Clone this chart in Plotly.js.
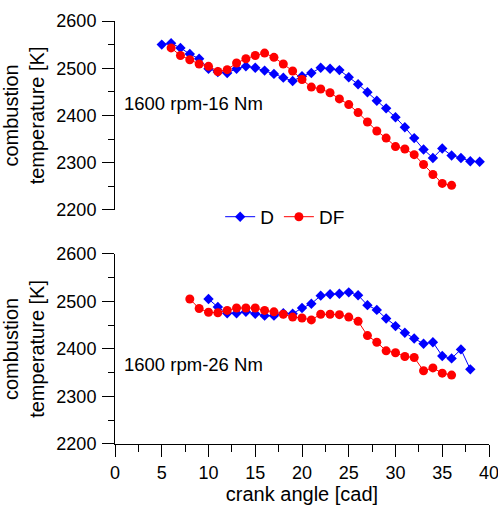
<!DOCTYPE html>
<html>
<head>
<meta charset="utf-8">
<script src="https://cdn.plot.ly/plotly-3.0.1.min.js"></script>
<style>html,body{margin:0;padding:0;background:#fff;}#chart{width:498px;height:508px;}</style>
</head>
<body>
<div id="chart"></div>
<script>
// Upper panel: 1600 rpm-16 Nm
const xTopD = [5,6,7,8,9,10,11,12,13,14,15,16,17,18,19,20,21,22,23,24,25,26,27,28,29,30,31,32,33,34,35,36,37,38,39];
const topD = [2550,2553,2543,2530,2520,2499,2492,2490,2499,2504,2501,2495,2488,2480,2473,2483,2490,2501,2499,2496,2481,2466,2449,2431,2415,2396,2375,2352,2328,2310,2330,2315,2310,2303,2302];
const xTopDF = [6,7,8,9,10,11,12,13,14,15,16,17,18,19,20,21,22,23,24,25,26,27,28,29,30,31,32,33,34,35,36];
const topDF = [2543,2527,2518,2509,2504,2493,2497,2511,2520,2527,2532,2523,2509,2494,2476,2460,2456,2448,2435,2423,2406,2386,2367,2352,2334,2329,2317,2296,2275,2256,2252];

// Lower panel: 1600 rpm-26 Nm
const xBotD = [10,11,12,13,14,15,16,17,18,19,20,21,22,23,24,25,26,27,28,29,30,31,32,33,34,35,36,37,38];
const botD = [2505,2488,2475,2475,2478,2474,2470,2470,2475,2474,2486,2495,2512,2515,2516,2519,2513,2492,2482,2464,2448,2434,2422,2411,2414,2385,2380,2399,2357];
const xBotDF = [8,9,10,11,12,13,14,15,16,17,18,19,20,21,22,23,24,25,26,27,28,29,30,31,32,33,34,35,36];
const botDF = [2505,2485,2477,2476,2481,2486,2486,2486,2481,2478,2473,2467,2465,2461,2473,2473,2472,2467,2458,2428,2414,2396,2392,2384,2382,2354,2360,2349,2345];

const seriesNames = ['D', 'DF'];
const panelLabels = ['1600 rpm-16 Nm', '1600 rpm-26 Nm'];
const yTitle = 'combustion<br>temperature [K]';
const xTitle = 'crank angle [cad]';

const blue = '#0000ff', red = '#ff0000';
const FONT = 'Arial, "Liberation Sans", sans-serif';

const dStyle = {mode:'lines+markers', line:{color:blue, width:1}, marker:{symbol:'diamond', size:8, color:blue}};
const fStyle = {mode:'lines+markers', line:{color:red, width:1}, marker:{symbol:'circle', size:9, color:red}};

const traces = [
  Object.assign({x:xTopD, y:topD, name:seriesNames[0], xaxis:'x', yaxis:'y', showlegend:true}, dStyle),
  Object.assign({x:xTopDF, y:topDF, name:seriesNames[1], xaxis:'x', yaxis:'y', showlegend:true}, fStyle),
  Object.assign({x:xBotD, y:botD, name:seriesNames[0], xaxis:'x', yaxis:'y2', showlegend:false}, dStyle),
  Object.assign({x:xBotDF, y:botDF, name:seriesNames[1], xaxis:'x', yaxis:'y2', showlegend:false}, fStyle)
];

const yAxisCommon = {
  range:[2200,2600], dtick:100, tick0:2200,
  showgrid:false, zeroline:false,
  showline:true, linecolor:'#000', linewidth:1,
  ticks:'outside', ticklen:12, tickwidth:1, tickcolor:'#000',
  minor:{dtick:50, ticks:'outside', ticklen:6, tickcolor:'#000', showgrid:false},
  tickfont:{family:FONT, size:18, color:'#000'},
  ticklabelstandoff:2,
  title:{text:yTitle, font:{family:FONT, size:20, color:'#000'}, standoff:6},
  anchor:'x'
};

const layout = {
  width:498, height:508,
  margin:{l:115, r:9, t:21, b:64},
  paper_bgcolor:'#fff', plot_bgcolor:'#fff',
  font:{family:FONT, color:'#000'},
  xaxis:{
    range:[0,40], dtick:5, tick0:0,
    showgrid:false, zeroline:false,
    showline:true, linecolor:'#000', linewidth:1,
    ticks:'outside', ticklen:12, tickwidth:1, tickcolor:'#000',
    minor:{dtick:2.5, ticks:'outside', ticklen:7, tickcolor:'#000', showgrid:false},
    tickfont:{family:FONT, size:18, color:'#000'},
    ticklabeloverflow:'allow',
    title:{text:xTitle, font:{family:FONT, size:20, color:'#000'}, standoff:5},
    anchor:'y2'
  },
  yaxis: Object.assign({}, yAxisCommon, {domain:[0.5535,1]}),
  yaxis2: Object.assign({}, yAxisCommon, {domain:[0,0.4496]}),
  legend:{
    orientation:'h', x:0.455, xanchor:'center', y:0.537, yanchor:'middle',
    font:{family:FONT, size:19, color:'#000'}, bgcolor:'rgba(0,0,0,0)',
    itemwidth:30, tracegroupgap:0
  },
  annotations:[
    {text:panelLabels[0], xref:'paper', yref:'paper', x:0.02, y:0.806, xanchor:'left', yanchor:'middle', showarrow:false, font:{family:FONT, size:18.5, color:'#000'}},
    {text:panelLabels[1], xref:'paper', yref:'paper', x:0.02, y:0.187, xanchor:'left', yanchor:'middle', showarrow:false, font:{family:FONT, size:18.5, color:'#000'}}
  ],
  showlegend:true
};

Plotly.newPlot('chart', traces, layout, {displayModeBar:false, staticPlot:true});
</script>
</body>
</html>
